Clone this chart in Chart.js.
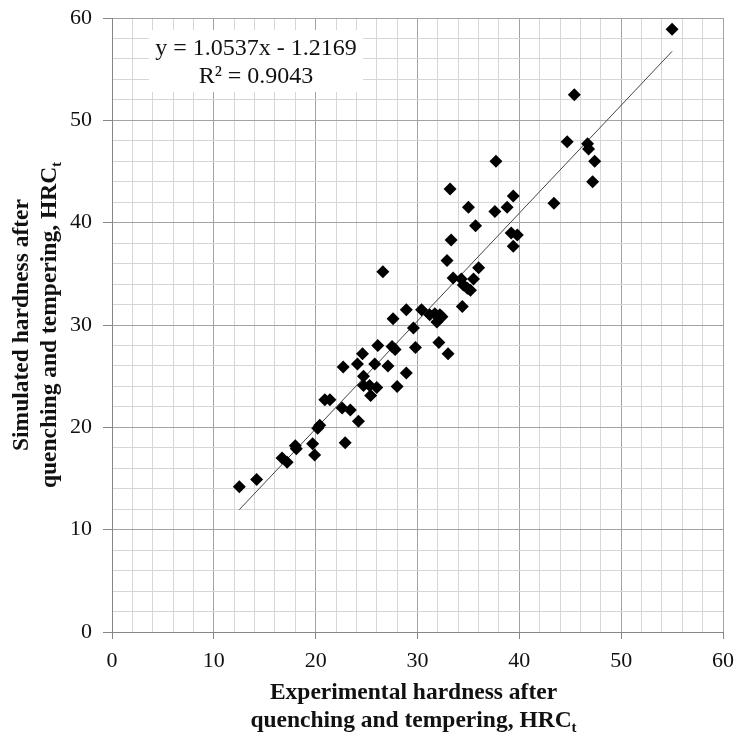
<!DOCTYPE html>
<html>
<head>
<meta charset="utf-8">
<script src="https://cdn.jsdelivr.net/npm/chart.js@4.4.1/dist/chart.umd.min.js"></script>
<style>
  html, body { margin: 0; padding: 0; background: #fff; }
  #wrap { width: 734px; height: 736px; }
</style>
</head>
<body>
<div id="wrap"><canvas id="chart" width="734" height="736"></canvas></div>
<script>
// experimental vs simulated hardness
const expX = [
  55.0, 45.4, 44.7, 46.7, 46.8, 47.4, 47.2, 37.7, 33.2, 35.0,
  39.4, 38.8, 37.6, 43.4, 35.7, 33.3, 39.2, 39.8, 39.4, 26.6,
  32.9, 36.0, 33.5, 34.3, 35.5, 34.5, 34.9, 35.2, 34.4, 28.9,
  30.4, 31.2, 31.7, 32.4, 31.9, 32.2, 27.6, 29.6, 32.1, 33.0,
  26.1, 27.5, 27.8, 29.8, 24.6, 22.7, 24.1, 25.8, 27.1, 24.7,
  28.9, 24.7, 25.3, 26.0, 28.0, 25.4, 20.9, 21.4, 22.6, 23.4,
  24.2, 20.4, 20.2, 22.9, 19.7, 19.9, 18.0, 18.1, 16.7, 17.2,
  14.2, 12.5
];
const simY = [
  58.9, 52.5, 47.9, 47.7, 47.2, 46.0, 44.0, 46.0, 43.3, 41.5,
  42.6, 41.5, 41.1, 41.9, 39.7, 38.3, 39.0, 38.8, 37.7, 35.2,
  36.3, 35.6, 34.6, 34.5, 34.5, 33.9, 33.6, 33.4, 31.8, 31.5,
  31.5, 31.0, 31.1, 30.8, 30.3, 31.0, 30.6, 29.7, 28.3, 27.2,
  28.0, 27.9, 27.6, 27.8, 27.2, 25.9, 26.2, 26.2, 26.0, 25.0,
  25.3, 24.1, 24.1, 23.9, 24.0, 23.1, 22.7, 22.7, 21.9, 21.7,
  20.6, 20.2, 19.9, 18.5, 18.4, 17.3, 18.2, 17.9, 17.0, 16.6,
  14.9, 14.2
];

// linear trendline ends (y = 1.0537x - 1.2169)
const trendX = [12.5, 55.0];
const trendY = [11.95, 56.74];

const majorTicks = [0, 10, 20, 30, 40, 50, 60];
const eqLines = ["y = 1.0537x - 1.2169", "R\u00B2 = 0.9043"];

const SERIF = "'Liberation Serif', 'Times New Roman', serif";

const points = expX.map((x, i) => ({ x: x, y: simY[i] }));
const trend = trendX.map((x, i) => ({ x: x, y: trendY[i] }));

const isMajor = (v) => majorTicks.includes(v);

const gridOpts = {
  color: (c) => (c.tick && isMajor(c.tick.value) ? "#a3a3a3" : "#d6d6d6"),
  tickColor: (c) => (c.tick && isMajor(c.tick.value) ? "#868686" : "rgba(0,0,0,0)"),
  tickLength: 7,
  lineWidth: 1,
};

// no automatic label padding, the plot box is fixed by layout.padding
const fixPad = (s) => {
  s.paddingLeft = 0;
  s.paddingRight = 0;
  s.paddingTop = 0;
  s.paddingBottom = 0;
};

// draws axis titles (with subscript t) and the equation box
const extras = {
  id: "extras",
  afterDraw(chart) {
    const { ctx, chartArea } = chart;
    ctx.save();

    // equation label
    ctx.fillStyle = "#fff";
    ctx.fillRect(149, 30, 214, 62);
    ctx.fillStyle = "#111";
    ctx.font = "24px " + SERIF;
    ctx.textAlign = "center";
    ctx.textBaseline = "middle";
    ctx.fillText(eqLines[0], 256, 49);
    ctx.fillText(eqLines[1], 256, 77);

    const bold = "bold 23.5px " + SERIF;
    const subFont = "bold 15px " + SERIF;

    const drawSub = (main, sub, cx, cy) => {
      ctx.font = bold;
      const w1 = ctx.measureText(main).width;
      ctx.font = subFont;
      const w2 = ctx.measureText(sub).width;
      const x0 = cx - (w1 + w2) / 2;
      ctx.textAlign = "left";
      ctx.font = bold;
      ctx.fillText(main, x0, cy);
      ctx.font = subFont;
      ctx.fillText(sub, x0 + w1, cy + 7);
    };

    ctx.fillStyle = "#111";
    ctx.textBaseline = "middle";

    // x title
    const cxX = (chartArea.left + chartArea.right) / 2 - 4;
    ctx.font = bold;
    ctx.textAlign = "center";
    ctx.fillText("Experimental hardness after", cxX, 693);
    drawSub("quenching and tempering, HRC", "t", cxX, 721);

    // y title
    const cyY = (chartArea.top + chartArea.bottom) / 2;
    ctx.translate(0, cyY);
    ctx.rotate(-Math.PI / 2);
    ctx.font = bold;
    ctx.textAlign = "center";
    ctx.fillText("Simulated hardness after", 0, 22);
    drawSub("quenching and tempering, HRC", "t", 0, 50);

    ctx.restore();
  },
};

new Chart(document.getElementById("chart"), {
  type: "scatter",
  data: {
    datasets: [
      {
        label: "Hardness",
        data: points,
        pointStyle: "rectRot",
        pointRadius: 6.5,
        pointBackgroundColor: "#000",
        pointBorderWidth: 0,
        order: 1,
      },
      {
        label: "Trend",
        type: "line",
        data: trend,
        borderColor: "#444",
        borderWidth: 1,
        pointRadius: 0,
        fill: false,
        order: 2,
      },
    ],
  },
  options: {
    responsive: false,
    animation: false,
    layout: { padding: { top: 18, right: 11, left: 0, bottom: 0 } },
    plugins: {
      legend: { display: false },
      tooltip: { enabled: false },
    },
    scales: {
      x: {
        type: "linear",
        min: 0,
        max: 60,
        border: { color: "#868686", width: 1 },
        grid: gridOpts,
        ticks: {
          stepSize: 2,
          autoSkip: false,
          maxRotation: 0,
          padding: 9,
          color: "#111",
          font: { family: SERIF, size: 22 },
          callback: (v) => (isMajor(v) ? v : ""),
        },
        afterFit: (s) => { s.height = 104; fixPad(s); },
      },
      y: {
        type: "linear",
        min: 0,
        max: 60,
        border: { color: "#868686", width: 1 },
        grid: Object.assign({}, gridOpts, { tickLength: 9 }),
        ticks: {
          stepSize: 2,
          autoSkip: false,
          padding: 11,
          color: "#111",
          font: { family: SERIF, size: 22 },
          callback: (v) => (isMajor(v) ? v : ""),
        },
        afterFit: (s) => { s.width = 112; fixPad(s); },
      },
    },
  },
  plugins: [extras],
});
</script>
</body>
</html>
